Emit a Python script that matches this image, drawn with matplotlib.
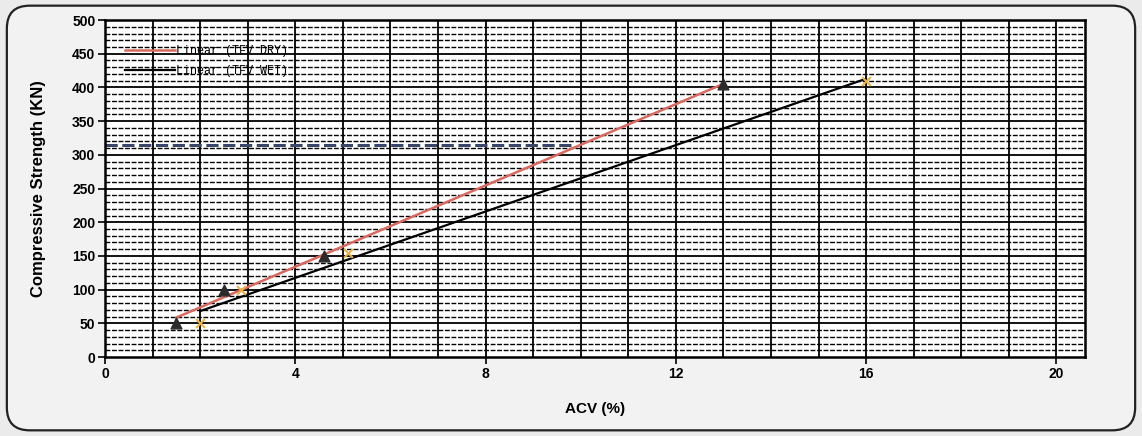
import numpy as np
from matplotlib import pyplot as plt
from matplotlib.patches import FancyBboxPatch

# TFV DRY (triangles) and TFV WET (yellow crosses)
dry_acv = [1.5, 2.5, 4.6, 13.0]
dry_strength = [50, 100, 150, 405]
wet_acv = [2.0, 2.85, 5.1, 16.0]
wet_strength = [50, 100, 155, 410]

ref_strength = 315
ref_acv_end = 9.85

x_ticks = [0, 4, 8, 12, 16, 20]
y_ticks = list(range(0, 501, 50))

fig = plt.figure(figsize=(11.42, 4.36), dpi=100)
fig.patch.set_facecolor("#ebebeb")
frame = FancyBboxPatch(
    (0.006, 0.013), 0.988, 0.974,
    boxstyle="round,pad=0,rounding_size=0.02",
    transform=fig.transFigure, facecolor="#f2f2f2",
    edgecolor="#222222", linewidth=1.6, mutation_aspect=1142 / 436,
    zorder=-10,
)
fig.patches.append(frame)

ax = fig.add_axes([0.092, 0.181, 0.858, 0.773])
ax.set_facecolor("white")

# dense graph-paper grid
for yv in range(10, 500, 10):
    if yv % 50 == 0:
        ax.axhline(yv, color="black", lw=1.3, zorder=1)
    else:
        ax.axhline(yv, color="black", lw=1.0, ls=(0, (3.5, 1.2)), zorder=1)
for xv in range(1, 21):
    ax.axvline(xv, color="black", lw=1.3, zorder=1)

ax.plot([0, ref_acv_end], [ref_strength, ref_strength], color="#3a4668",
        lw=2.2, ls=(0, (4, 1.5)), zorder=2)

# trend lines
p_dry = np.polyfit(dry_acv, dry_strength, 1)
p_wet = np.polyfit(wet_acv, wet_strength, 1)
xd = np.array([min(dry_acv), max(dry_acv)])
xw = np.array([min(wet_acv), max(wet_acv)])
ax.plot(xd, np.polyval(p_dry, xd), color="#d9685e", lw=1.8, zorder=3,
        label="Linear (TFV DRY)")
ax.plot(xw, np.polyval(p_wet, xw), color="black", lw=1.6, zorder=3,
        label="Linear (TFV WET)")

ax.scatter(dry_acv, dry_strength, marker="^", s=60, color="#2b2b2b", zorder=4)
ax.scatter(wet_acv, wet_strength, marker="x", s=40, color="#eab34a",
           linewidths=1.5, zorder=4)

ax.set_xlim(0, 20.6)
ax.set_ylim(0, 500)
ax.set_xticks(x_ticks)
ax.set_yticks(y_ticks)
ax.tick_params(axis="both", direction="out", length=5, width=1.2,
               labelsize=10, pad=2)
for lab in ax.get_xticklabels() + ax.get_yticklabels():
    lab.set_fontweight("bold")
    lab.set_family(["Liberation Sans Narrow", "Liberation Sans"])
for sp in ax.spines.values():
    sp.set_linewidth(1.8)

ax.set_xlabel("ACV (%)", fontsize=11, fontweight="bold",
              family=["Liberation Sans Narrow", "Liberation Sans"], labelpad=15)
ax.set_ylabel("Compressive Strength (KN)", fontsize=12, fontweight="bold",
              family="Liberation Sans", labelpad=19)

leg = ax.legend(loc="upper left", bbox_to_anchor=(0.016, 0.94), frameon=False,
                prop={"family": "Liberation Mono", "size": 8.5},
                handlelength=4.2, handletextpad=0.1, labelspacing=0.65,
                borderaxespad=0)

fig.savefig("out.png", dpi=100, facecolor=fig.get_facecolor())
